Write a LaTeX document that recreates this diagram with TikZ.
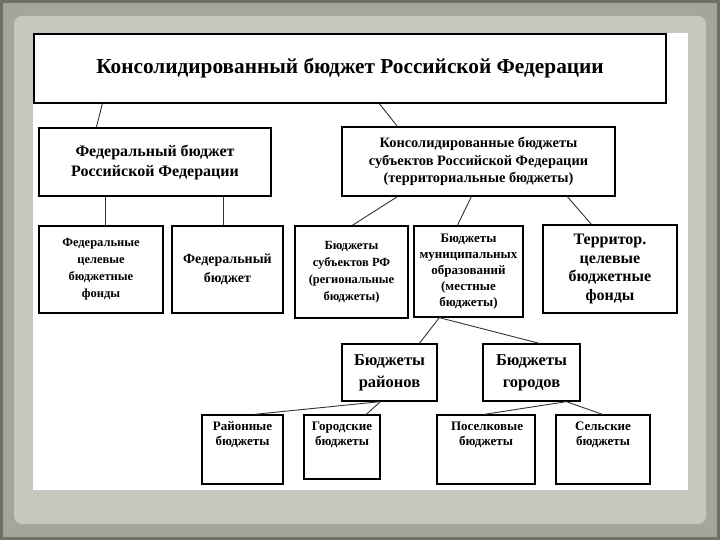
\documentclass[tikz,border=0pt]{standalone}
\usepackage{fontspec}
\setmainfont{Liberation Serif}
\usepackage{xcolor}
\definecolor{frameedge}{HTML}{6E7168}
\definecolor{framegray}{HTML}{A3A69B}
\definecolor{paper}{HTML}{C6C8BD}
\definecolor{linkgray}{HTML}{333333}
\usepackage{tikz}
\usetikzlibrary{positioning}
\tikzset{
  box/.style={rectangle,draw,line width=1.3pt,inner sep=0pt,align=center,font=\bfseries},
  titlebox/.style={box,font=\bfseries\fontsize{21.3}{24}\selectfont},
  mainbox/.style={box,font=\bfseries\fontsize{16}{20}\selectfont},
  subbox/.style={box,font=\bfseries\fontsize{12.5}{17}\selectfont},
  lowbox/.style={box,font=\bfseries\fontsize{13}{15}\selectfont},
  link/.style={draw=linkgray,line width=0.9pt}
}
\newcommand{\toptext}[2]{\parbox[c][#1][t]{70pt}{\centering #2}}

\begin{document}
\begin{tikzpicture}[x=1pt,y=-1pt]
  \useasboundingbox (0,0) rectangle (720,540);
  % Frame
  \fill[frameedge] (0,0) rectangle (720,540);
  \fill[framegray] (3,3) rectangle (717,537);
  \fill[paper,rounded corners=8pt] (14,16) rectangle (706,524);
  \fill[white] (33,33) rectangle (688,490);

  % Top level
  \node[titlebox,minimum width=632pt,minimum height=69pt] (cons) at (350,68.5)
    {Консолидированный бюджет Российской Федерации};
  \node[mainbox,minimum width=232pt,minimum height=68pt] (fed) at (155,162)
    {Федеральный бюджет\\Российской Федерации};
  \node[box,font=\bfseries\fontsize{14.4}{17.5}\selectfont,minimum width=273pt,minimum height=69pt] (terrcons) at (478.5,161.5)
    {Консолидированные бюджеты\\субъектов Российской Федерации\\(территориальные бюджеты)};

  % Second level
  \node[subbox,minimum width=124pt,minimum height=87pt] (fedfund) at (101,269.5)
    {Федеральные\\целевые\\бюджетные\\фонды};
  \node[mainbox,font=\bfseries\fontsize{14}{19}\selectfont,minimum width=111pt,minimum height=87pt] (fedbud) at (227.5,269.5)
    {Федеральный\\бюджет};
  \node[subbox,minimum width=113pt,minimum height=92pt] (subj) at (351.5,272)
    {Бюджеты\\субъектов РФ\\(региональные\\бюджеты)};
  \node[subbox,font=\bfseries\fontsize{13}{16}\selectfont,minimum width=109pt,minimum height=91pt] (mun) at (468.5,271.5)
    {Бюджеты\\муниципальных\\образований\\(местные\\бюджеты)};
  \node[mainbox,font=\bfseries\fontsize{16}{18.5}\selectfont,minimum width=134pt,minimum height=88pt] (terrfund) at (610,269)
    {Территор.\\целевые\\бюджетные\\фонды};

  % Third level
  \node[mainbox,font=\bfseries\fontsize{16.5}{22}\selectfont,minimum width=95pt,minimum height=57pt] (rai) at (389.5,372.5)
    {Бюджеты\\районов};
  \node[mainbox,font=\bfseries\fontsize{16.5}{22}\selectfont,minimum width=97pt,minimum height=57pt] (gor) at (531.5,372.5)
    {Бюджеты\\городов};

  % Bottom level
  \node[lowbox,minimum width=81pt,minimum height=69pt] (raib) at (242.5,449.5)
    {\toptext{56pt}{Районные\\бюджеты}};
  \node[lowbox,minimum width=76pt,minimum height=64pt] (gorb) at (342,447)
    {\toptext{51pt}{Городские\\бюджеты}};
  \node[lowbox,minimum width=98pt,minimum height=69pt] (posb) at (486,449.5)
    {\toptext{56pt}{Поселковые\\бюджеты}};
  \node[lowbox,minimum width=94pt,minimum height=69pt] (selb) at (603,449.5)
    {\toptext{56pt}{Сельские\\бюджеты}};

  % Links
  \draw[link] ([xshift=69pt]cons.south west) -- ([xshift=58pt]fed.north west);
  \draw[link] ([xshift=346pt]cons.south west) -- ([xshift=56pt]terrcons.north west);
  \draw[link] ([xshift=67pt]fed.south west) -- ([xshift=67pt]fedfund.north west);
  \draw[link] ([xshift=185pt]fed.south west) -- ([xshift=52pt]fedbud.north west);
  \draw[link] ([xshift=56pt]terrcons.south west) -- ([xshift=58pt]subj.north west);
  \draw[link] ([xshift=130pt]terrcons.south west) -- ([xshift=44pt]mun.north west);
  \draw[link] ([xshift=226pt]terrcons.south west) -- ([xshift=49pt]terrfund.north west);
  \draw[link] ([xshift=26pt]mun.south west) -- ([xshift=78pt]rai.north west);
  \draw[link] ([xshift=26pt]mun.south west) -- ([xshift=57pt]gor.north west);
  \draw[link] ([xshift=39pt]rai.south west) -- ([xshift=53pt]raib.north west);
  \draw[link] ([xshift=39pt]rai.south west) -- ([xshift=63pt]gorb.north west);
  \draw[link] ([xshift=84pt]gor.south west) -- ([xshift=48pt]posb.north west);
  \draw[link] ([xshift=84pt]gor.south west) -- ([xshift=47pt]selb.north west);
\end{tikzpicture}
\end{document}
